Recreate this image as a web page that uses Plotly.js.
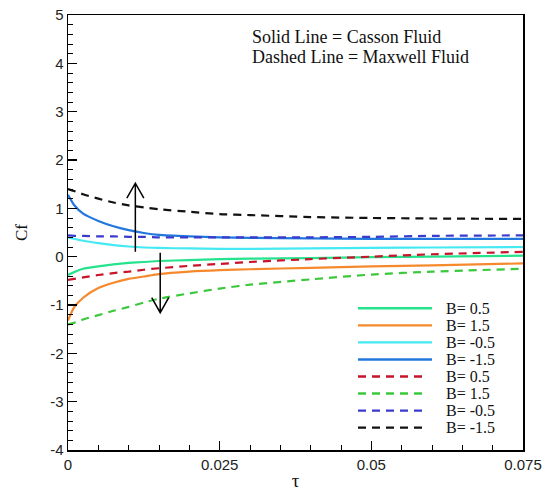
<!DOCTYPE html>
<html>
<head>
<meta charset="utf-8">
<script src="https://cdn.plot.ly/plotly-3.0.1.min.js"></script>
<style>html,body{margin:0;padding:0;background:#fff;}#chart{width:550px;height:496px;}</style>
</head>
<body>
<div id="chart"></div>
<script>
// Shared abscissa (tau)
var tau = [0, 0.001, 0.0025, 0.005, 0.0075, 0.01, 0.0125, 0.015, 0.02, 0.025, 0.03, 0.04, 0.05, 0.06, 0.075];

// Casson fluid (solid lines)
var cassonB05  = [-0.38, -0.32, -0.25, -0.20, -0.16, -0.13, -0.11, -0.09, -0.07, -0.05, -0.04, -0.03, -0.01, 0.00, 0.02];
var cassonB15  = [-1.32, -1.05, -0.85, -0.65, -0.54, -0.46, -0.41, -0.36, -0.31, -0.28, -0.26, -0.23, -0.20, -0.18, -0.14];
var cassonBm05 = [0.40, 0.37, 0.33, 0.28, 0.24, 0.21, 0.19, 0.18, 0.17, 0.16, 0.16, 0.17, 0.18, 0.19, 0.20];
var cassonBm15 = [1.28, 1.07, 0.89, 0.74, 0.63, 0.55, 0.49, 0.45, 0.42, 0.40, 0.39, 0.38, 0.37, 0.37, 0.37];

// Maxwell fluid (dashed lines)
var maxwellB05  = [-0.48, -0.46, -0.43, -0.38, -0.34, -0.31, -0.27, -0.24, -0.19, -0.15, -0.11, -0.05, 0.00, 0.05, 0.10];
var maxwellB15  = [-1.40, -1.37, -1.30, -1.21, -1.12, -1.04, -0.95, -0.87, -0.76, -0.66, -0.58, -0.47, -0.37, -0.31, -0.25];
var maxwellBm05 = [0.44, 0.43, 0.43, 0.42, 0.42, 0.41, 0.41, 0.40, 0.40, 0.40, 0.40, 0.40, 0.41, 0.43, 0.44];
var maxwellBm15 = [1.40, 1.36, 1.29, 1.20, 1.12, 1.06, 1.02, 0.98, 0.93, 0.88, 0.86, 0.82, 0.80, 0.79, 0.78];

var legendNames = ["B= 0.5", "B= 1.5", "B= -0.5", "B= -1.5", "B= 0.5", "B= 1.5", "B= -0.5", "B= -1.5"];

// Arrow annotations: [tau, from, to]
var arrowUp   = [0.0111, 0.10, 1.52];
var arrowDown = [0.0152, 0.08, -1.16];

var xTickVals = [0, 0.025, 0.05, 0.075];
var xTickText = ["0", "0.025", "0.05", "0.075"];
var yTickVals = [-4, -3, -2, -1, 0, 1, 2, 3, 4, 5];
var yTickText = ["-4", "-3", "-2", "-1", "0", "1", "2", "3", "4", "5"];

var series = [cassonB05, cassonB15, cassonBm05, cassonBm15, maxwellB05, maxwellB15, maxwellBm05, maxwellBm15];
var colors = ["#25e38c", "#f5892c", "#45e9f2", "#2277dd", "#c8142a", "#3cc83c", "#3a3acc", "#111111"];
var dashes = ["solid", "solid", "solid", "solid", "8px,6px", "8px,6px", "8px,6px", "8px,6px"];

var traces = series.map(function (ys, i) {
  return {
    x: tau, y: ys, type: "scatter", mode: "lines",
    name: legendNames[i], showlegend: false,
    line: {color: colors[i], width: 2.2, dash: dashes[i], shape: "spline", smoothing: 0.6}
  };
});

var serif = "Liberation Serif, Times New Roman, serif";
var sans = "Liberation Sans, Arial, sans-serif";

// plot-area geometry (px)
var PL = 68, PR = 523, PT = 15, PB = 450;
var XR = [0, 0.075], YR = [-4, 5];
function px2x(p) { return (p - PL) / (PR - PL); }
function px2y(p) { return (PB - p) / (PB - PT); }
var dxPerPx = (XR[1] - XR[0]) / (PR - PL);
var dyPerPx = (YR[1] - YR[0]) / (PB - PT);

// open "V" arrow drawn as a path in data coordinates
function arrowShape(a) {
  var x = a[0], y0 = a[1], y1 = a[2];
  var dir = y1 > y0 ? 1 : -1;
  var hw = 8.5 * dxPerPx, hl = 15 * dyPerPx * dir;
  var path = "M" + x + "," + y0 + " L" + x + "," + y1 +
             " M" + (x - hw) + "," + (y1 - hl) + " L" + x + "," + y1 + " L" + (x + hw) + "," + (y1 - hl);
  return {type: "path", xref: "x", yref: "y", path: path, line: {color: "#000", width: 1.5}};
}

var shapes = [arrowShape(arrowUp), arrowShape(arrowDown)];
var annotations = [
  {xref: "paper", yref: "paper", x: px2x(250), y: px2y(37), xanchor: "left", yanchor: "middle",
   text: "Solid Line = Casson Fluid", showarrow: false, font: {family: serif, size: 18, color: "#111"}},
  {xref: "paper", yref: "paper", x: px2x(250), y: px2y(57), xanchor: "left", yanchor: "middle",
   text: "Dashed Line = Maxwell Fluid", showarrow: false, font: {family: serif, size: 18, color: "#111"}}
];

legendNames.forEach(function (nm, i) {
  var rowY = 308.3 + i * 17.05;
  shapes.push({
    type: "line", xref: "paper", yref: "paper",
    x0: px2x(358), x1: px2x(i < 4 ? 432 : 428), y0: px2y(rowY), y1: px2y(rowY),
    line: {color: colors[i], width: 2.4, dash: dashes[i]}
  });
  annotations.push({
    xref: "paper", yref: "paper", x: px2x(444), y: px2y(rowY), xanchor: "left", yanchor: "middle",
    text: nm, showarrow: false, font: {family: serif, size: 16, color: "#111"}
  });
});

var layout = {
  width: 550, height: 496,
  margin: {l: PL, r: 550 - PR, t: PT, b: 496 - PB},
  paper_bgcolor: "#fff", plot_bgcolor: "#fff",
  showlegend: false,
  xaxis: {
    range: XR, tickvals: xTickVals, ticktext: xTickText,
    ticks: "inside", ticklen: 9, tickwidth: 1.3, tickcolor: "#000",
    minor: {dtick: 0.005, ticks: "inside", ticklen: 5, tickwidth: 1, tickcolor: "#000"},
    showline: true, linecolor: "#000", linewidth: 1.5, mirror: true,
    showgrid: false, zeroline: false,
    tickfont: {family: sans, size: 15, color: "#222"},
    title: {text: "τ", font: {family: serif, size: 19, color: "#111"}, standoff: 2}
  },
  yaxis: {
    range: YR, tickvals: yTickVals, ticktext: yTickText,
    ticks: "inside", ticklen: 9, tickwidth: 1.3, tickcolor: "#000",
    minor: {dtick: 0.2, ticks: "inside", ticklen: 5, tickwidth: 1, tickcolor: "#000"},
    showline: true, linecolor: "#000", linewidth: 1.5, mirror: true,
    showgrid: false, zeroline: false,
    tickfont: {family: sans, size: 15, color: "#222"},
    title: {text: "Cf", font: {family: serif, size: 17, color: "#111"}, standoff: 18}
  },
  shapes: shapes,
  annotations: annotations
};

Plotly.newPlot("chart", traces, layout, {displayModeBar: false, staticPlot: true});
</script>
</body>
</html>
